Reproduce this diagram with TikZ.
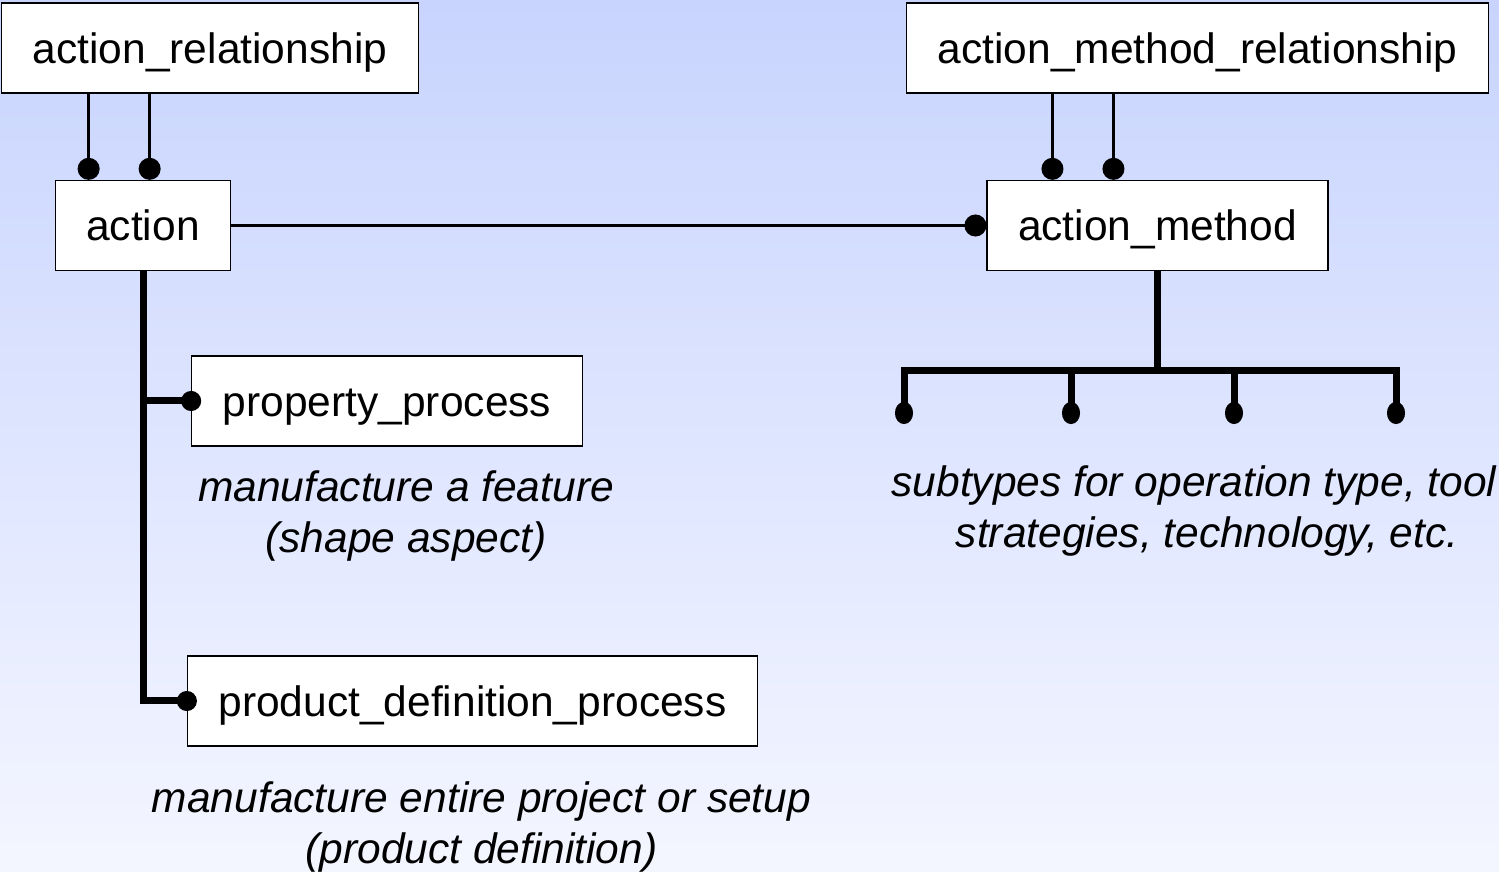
\documentclass[tikz,border=0pt]{standalone}
\usepackage{fontspec}
\setmainfont{Liberation Sans}
\usepackage{tikz}
\usetikzlibrary{arrows.meta}

\definecolor{skytop}{RGB}{200,212,254}
\definecolor{skybottom}{RGB}{244,246,255}

\begin{document}
\begin{tikzpicture}[
	entity/.style={draw, line width=0.65bp, fill=white, minimum height=45bp, inner xsep=15.5bp,
		text height=15.3bp, text depth=0pt, font=\fontsize{21.25bp}{25.5bp}\selectfont},
	note/.style={align=center, font=\fontsize{21.25bp}{25.5bp}\selectfont\itshape},
	link/.style={line width=1.5bp, -{Circle[length=11bp]}},
	trunk/.style={line width=3.5bp, -{Circle[length=11bp,width=9bp]}}]
	\shade[top color=skytop, bottom color=skybottom] (0bp,0bp) rectangle (749.5bp,436bp);
	\useasboundingbox (0bp,0bp) rectangle (749.5bp,436bp);

	\node (arel)      at (105bp,412bp)      [entity] {action\_relationship};
	\node (amrel)     at (598.75bp,412bp)   [entity] {action\_method\_relationship};
	\node (action)    at (71.5bp,323.25bp)  [entity] {action};
	\node (amethod)   at (578.75bp,323.25bp) [entity] {action\_method};
	\node (pprocess)  at (193.5bp,235.5bp)  [entity] {property\_process};
	\node (pdprocess) at (236.25bp,85.5bp)  [entity] {product\_definition\_process};

	\node (featnote) at (203bp,177.75bp)   [note] {manufacture a feature\\(shape aspect)};
	\node (subnote)  at (603.5bp,180.25bp) [note] {subtypes for operation type, tool\hspace*{13bp}\\strategies, technology, etc.};
	\node (prodnote) at (240.75bp,22.25bp) [note] {manufacture entire project or setup\\(product definition)};

	\coordinate (fork) at ([yshift=-49.5bp]amethod.south);
	\coordinate (t1) at (452bp,224bp);
	\coordinate (t2) at (535.5bp,224bp);
	\coordinate (t3) at (617bp,224bp);
	\coordinate (t4) at (698bp,224bp);

	\draw [link] ([xshift=17bp]action.north west |- arel.south) -- ([xshift=17bp]action.north west);
	\draw [link] ([xshift=47.5bp]action.north west |- arel.south) -- ([xshift=47.5bp]action.north west);
	\draw [link] ([xshift=33bp]amethod.north west |- amrel.south) -- ([xshift=33bp]amethod.north west);
	\draw [link] ([xshift=63.5bp]amethod.north west |- amrel.south) -- ([xshift=63.5bp]amethod.north west);
	\draw [link] (action.east) -- (amethod.west);

	\draw [trunk, -{Circle[length=10bp]}, shorten >=-5bp] (action.south) |- (pprocess.west);
	\draw [trunk, -{Circle[length=10bp]}, shorten >=-5bp] (action.south) |- (pdprocess.west);

	\draw [trunk, -] (amethod.south) -- (fork);
	\draw [trunk, {Circle[length=11bp,width=9bp]}-{Circle[length=11bp,width=9bp]}] (t1) -- (t1 |- fork) -- (t4 |- fork) -- (t4);
	\foreach \leaf in {t2,t3}
		\draw [trunk] (\leaf |- fork) -- (\leaf);
\end{tikzpicture}
\end{document}
